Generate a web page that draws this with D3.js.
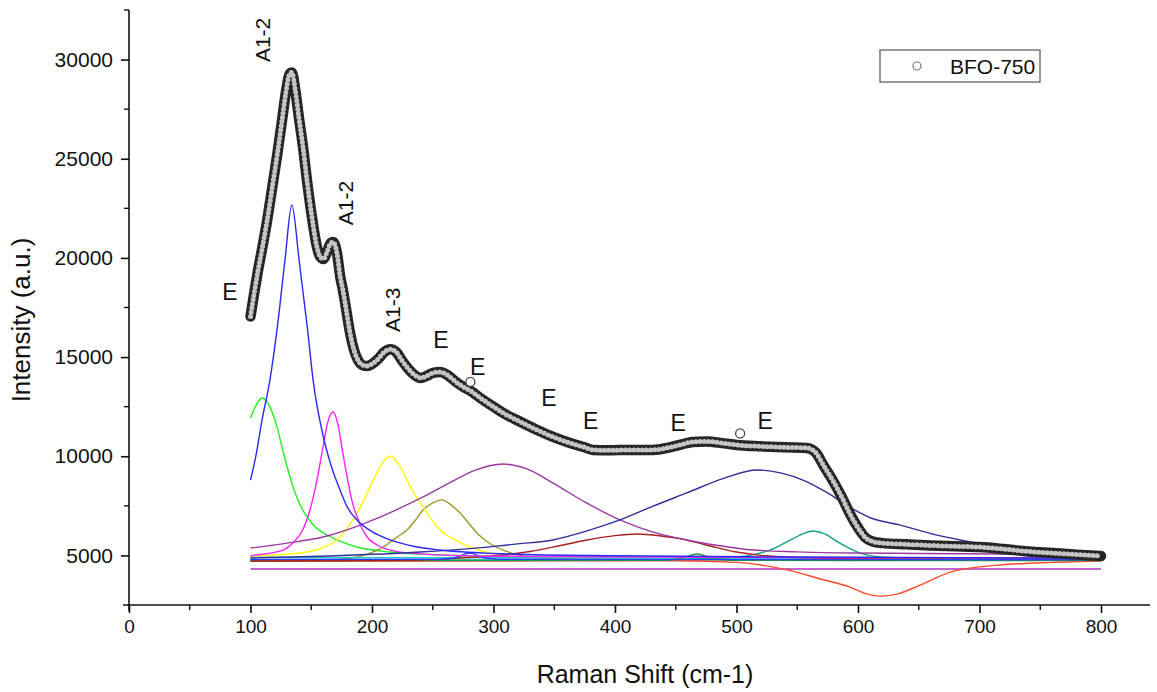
<!DOCTYPE html>
<html>
<head>
<meta charset="utf-8">
<script src="https://cdn.jsdelivr.net/npm/d3@7/dist/d3.min.js"></script>
<style>
  html, body { margin: 0; padding: 0; background: #fff; }
  svg { display: block; }
  text { font-family: "Liberation Sans", Arial, sans-serif; fill: #111; }
</style>
</head>
<body>
<svg id="chart" width="1157" height="692"></svg>
<script>
// Measured spectrum, BFO-750 (Raman shift in cm-1, intensity in a.u.)
const shift = [100,103,106,110,114,118,122,126,129,132,134,137,140,143,146.5,150,154.7,157,160,163,166,168,171,174,176,179,182,185,188,192,196,200,205,210,215,220,225,230,235,240,245,250,256,262,268,275,281,290,300,308,320,336,350,363,375,382,395,410,431,445,455,464,475,490,500,520,540,558,565,572,580,587,593,600,606,612,620,640,660,680,700,720,740,760,780,800];
const intensity = [17050,18200,19300,20600,22000,23600,25200,26950,28300,29250,29350,28400,27000,25700,23900,22300,20550,20100,19950,20300,20750,20800,20300,19000,18400,17300,16200,15400,14900,14600,14550,14650,14900,15250,15400,15250,14800,14400,14100,13950,14050,14200,14250,14100,13800,13500,13300,12900,12500,12180,11800,11320,10950,10670,10450,10320,10300,10320,10320,10450,10600,10720,10750,10650,10570,10500,10450,10420,10200,9500,8700,7900,7140,6400,5900,5700,5620,5560,5500,5460,5420,5320,5200,5120,5040,4970];
// Stray points lying off the band
const strayShift = [281, 503];
const strayIntensity = [13750, 11150];

// Fitted band components: [shift, intensity] pairs
const compGreen = [[100,11930],[104,12500],[109.5,12940],[115,12600],[121.8,11480],[127,10200],[132.5,8955],[139,7800],[146.5,6940],[154,6400],[163,6030],[175,5680],[187.6,5425],[215,5170],[256,5020],[320,4930],[450,4880],[600,4840],[800,4800]];
const compBlue = [[100,8800],[105,10200],[109.5,11830],[116,13850],[121.8,16370],[128.4,19900],[134,22670],[140,19900],[147,16370],[151.5,13850],[160,10970],[166,9600],[173.7,8300],[180,7400],[187.6,6790],[200,6200],[215,5780],[235,5450],[256,5270],[300,5100],[400,4980],[550,4920],[800,4860]];
const compMagenta = [[100,4980],[105,5020],[126.7,5270],[136,5700],[143,6280],[149,7300],[154.7,8800],[159.7,10470],[163.5,11700],[167.9,12230],[172,11600],[176,10165],[184,7640],[190,6600],[196,5930],[205,5500],[215,5270],[240,5080],[300,4960],[500,4900],[800,4870]];
const compYellow = [[100,4960],[146.5,5170],[160,5400],[171,5780],[180,6400],[187.6,7140],[195,8000],[201,8800],[208,9600],[215,10010],[222,9600],[228.8,8800],[235,8100],[242,7440],[256,6280],[268,5800],[280.7,5420],[300,5100],[321.8,4920],[400,4850],[600,4820],[800,4800]];
const compOlive = [[100,4780],[170,4800],[187.6,4920],[200,5150],[209,5420],[220,5900],[228.8,6280],[236,6800],[242,7290],[250,7650],[257.6,7800],[265,7550],[272.4,7140],[280,6600],[286.4,6130],[297,5600],[307.8,5270],[320,5030],[335.8,4870],[400,4780],[800,4750]];
const compPurple = [[100,5370],[130,5620],[159.7,5930],[180,6300],[201,6790],[220,7300],[242,7950],[265,8700],[285,9300],[307.8,9610],[328,9350],[349,8650],[375,7700],[404,6790],[430,6200],[459,5780],[485,5500],[513.6,5270],[550,5180],[593,5120],[650,5100],[720,5070],[800,5050]];
const compNavy = [[100,4870],[170,4980],[239.5,5170],[294.6,5420],[320,5580],[349,5780],[375,6200],[404,6790],[430,7450],[459,8150],[490,8900],[516.9,9310],[537,9150],[554.7,8800],[575,8150],[593,7440],[610,6900],[634.6,6530],[660,6100],[684,5780],[720,5400],[758,5120],[800,4920]];
const compDarkRed = [[100,4720],[180,4740],[239.5,4770],[275,4880],[307.8,5020],[330,5200],[349,5420],[377,5780],[400,6000],[418,6080],[438,5980],[459,5780],[480,5450],[500,5170],[520,5000],[541.6,4920],[580,4850],[650,4820],[800,4800]];
const compTeal = [[100,4760],[300,4770],[450,4790],[500,4920],[515,5050],[527.6,5270],[545,5800],[555,6100],[563,6230],[572,6100],[585,5620],[593,5350],[601.6,5120],[618,4920],[650,4850],[800,4840]];
const compGreenDark = [[100,4740],[300,4740],[440,4760],[455,4850],[467.5,5070],[480,4860],[495,4760],[600,4740],[800,4740]];
const compBlueSmall = [[100,4800],[255,4810],[268,4880],[280.7,5120],[292,4880],[305,4810],[500,4790],[800,4780]];
const compRed = [[100,4700],[300,4720],[450,4730],[500,4650],[541.6,4270],[570,3800],[593,3410],[605,3100],[618,2950],[632,3050],[651,3500],[676,4160],[700,4420],[717,4520],[760,4650],[800,4720]];
const compCyan = [[100,4900],[300,4880],[500,4860],[800,4840]];
const compLowLine = [[100,4315],[800,4315]];

const components = [
  { name: "green",     pts: compGreen,     color: "#22ee22" },
  { name: "olive",     pts: compOlive,     color: "#9a9a2a" },
  { name: "yellow",    pts: compYellow,    color: "#ffff00" },
  { name: "cyan",      pts: compCyan,      color: "#22cccc" },
  { name: "lowline",   pts: compLowLine,   color: "#b030c0" },
  { name: "red",       pts: compRed,       color: "#ff4a2a" },
  { name: "greendark", pts: compGreenDark, color: "#2a9a2a" },
  { name: "teal",      pts: compTeal,      color: "#12a088" },
  { name: "darkred",   pts: compDarkRed,   color: "#a82222" },
  { name: "bluesmall", pts: compBlueSmall, color: "#2244ff" },
  { name: "magenta",   pts: compMagenta,   color: "#ff22ff" },
  { name: "purple",    pts: compPurple,    color: "#9a3aa0" },
  { name: "navy",      pts: compNavy,      color: "#30309a" },
  { name: "blue",      pts: compBlue,      color: "#2a2aee" }
];

// Peak assignments
const labels = [
  { text: "E",    x: 83,    y: 18285, rotate: false },
  { text: "A1-2", x: 109.5, y: 30990, rotate: true },
  { text: "A1-2", x: 177.8, y: 22770, rotate: true },
  { text: "A1-3", x: 217,   y: 17380, rotate: true },
  { text: "E",    x: 256.8, y: 15860, rotate: false },
  { text: "E",    x: 287,   y: 14500, rotate: false },
  { text: "E",    x: 345.7, y: 12940, rotate: false },
  { text: "E",    x: 380,   y: 11780, rotate: false },
  { text: "E",    x: 452,   y: 11680, rotate: false },
  { text: "E",    x: 523.5, y: 11780, rotate: false }
];

const xTicks = [0,100,200,300,400,500,600,700,800];
const yTicks = [5000,10000,15000,20000,25000,30000];
const seriesName = "BFO-750";

const svg = d3.select("#chart");
const x = d3.scaleLinear().domain([0, 800]).range([129, 1101]);
const y = d3.scaleLinear().domain([2500, 32500]).range([605, 10]);

// Axes
const gx = svg.append("g").attr("transform", "translate(0,605)");
gx.append("line").attr("x1", 123).attr("x2", 1150).attr("stroke", "#111").attr("stroke-width", 1.6);
const xMinor = d3.range(50, 850, 100);
gx.selectAll("line.minor").data(xMinor).join("line").attr("class", "minor")
  .attr("x1", d => x(d)).attr("x2", d => x(d)).attr("y1", 0).attr("y2", 5)
  .attr("stroke", "#111").attr("stroke-width", 1.4);
gx.call(g => g.append("g").call(d3.axisBottom(x).tickValues(xTicks).tickSize(8).tickPadding(7).tickFormat(d3.format("d")))
  .call(a => a.select(".domain").remove())
  .call(a => a.selectAll(".tick line").attr("stroke", "#111").attr("stroke-width", 1.6))
  .call(a => a.selectAll(".tick text").attr("font-size", 19).attr("font-family", "Liberation Sans, Arial").attr("fill", "#111")));

const gy = svg.append("g").attr("transform", "translate(129,0)");
gy.append("line").attr("y1", 10).attr("y2", 611).attr("stroke", "#111").attr("stroke-width", 1.6);
gy.append("line").attr("x1", -5).attr("x2", 0).attr("y1", 10).attr("y2", 10).attr("stroke", "#111").attr("stroke-width", 1.4);
const yMinor = d3.range(7500, 32500, 5000);
gy.selectAll("line.minor").data(yMinor).join("line").attr("class", "minor")
  .attr("x1", -5).attr("x2", 0).attr("y1", d => y(d)).attr("y2", d => y(d))
  .attr("stroke", "#111").attr("stroke-width", 1.4);
gy.call(g => g.append("g").call(d3.axisLeft(y).tickValues(yTicks).tickSize(8).tickPadding(8).tickFormat(d3.format("d")))
  .call(a => a.select(".domain").remove())
  .call(a => a.selectAll(".tick line").attr("stroke", "#111").attr("stroke-width", 1.6))
  .call(a => a.selectAll(".tick text").attr("font-size", 21).attr("font-family", "Liberation Sans, Arial").attr("fill", "#111")));

// Axis titles
svg.append("text").attr("x", 645).attr("y", 683).attr("text-anchor", "middle")
  .attr("font-size", 25).text("Raman Shift (cm-1)");
svg.append("text").attr("transform", "translate(30,320) rotate(-90)").attr("text-anchor", "middle")
  .attr("font-size", 26).text("Intensity (a.u.)");

// Fitted components
const line = d3.line().x(d => x(d[0])).y(d => y(d[1])).curve(d3.curveMonotoneX);
svg.append("g").selectAll("path").data(components).join("path")
  .attr("d", d => line(d.pts)).attr("fill", "none")
  .attr("stroke", d => d.color).attr("stroke-width", 1.4);

// Measured spectrum drawn as a chain of open circles
const spec = shift.map((s, i) => [s, intensity[i]]);
const specPath = line(spec);
svg.append("path").attr("d", specPath).attr("fill", "none")
  .attr("stroke", "#262626").attr("stroke-width", 10.5)
  .attr("stroke-linejoin", "round").attr("stroke-linecap", "round");
svg.append("path").attr("d", specPath).attr("fill", "none")
  .attr("stroke", "#c4c4c4").attr("stroke-width", 5)
  .attr("stroke-dasharray", "0 4.2").attr("stroke-linecap", "round");

svg.append("g").selectAll("circle").data(strayShift.map((s, i) => [s, strayIntensity[i]])).join("circle")
  .attr("cx", d => x(d[0])).attr("cy", d => y(d[1])).attr("r", 4.5)
  .attr("fill", "#fff").attr("stroke", "#444").attr("stroke-width", 1.3);

// Peak labels
svg.append("g").selectAll("text").data(labels).join("text")
  .attr("transform", d => `translate(${x(d.x)},${y(d.y)})` + (d.rotate ? " rotate(-90)" : ""))
  .attr("text-anchor", "middle").attr("dominant-baseline", "central")
  .attr("font-size", d => d.rotate ? 21 : 23).text(d => d.text);

// Legend
const lg = svg.append("g");
lg.append("rect").attr("x", 880).attr("y", 50).attr("width", 160).attr("height", 32)
  .attr("fill", "#fff").attr("stroke", "#555").attr("stroke-width", 1.2);
lg.append("circle").attr("cx", 917).attr("cy", 66).attr("r", 4)
  .attr("fill", "#fff").attr("stroke", "#777").attr("stroke-width", 1.2);
lg.append("text").attr("x", 950).attr("y", 66).attr("dominant-baseline", "central")
  .attr("font-size", 21).text(seriesName);
</script>
</body>
</html>
